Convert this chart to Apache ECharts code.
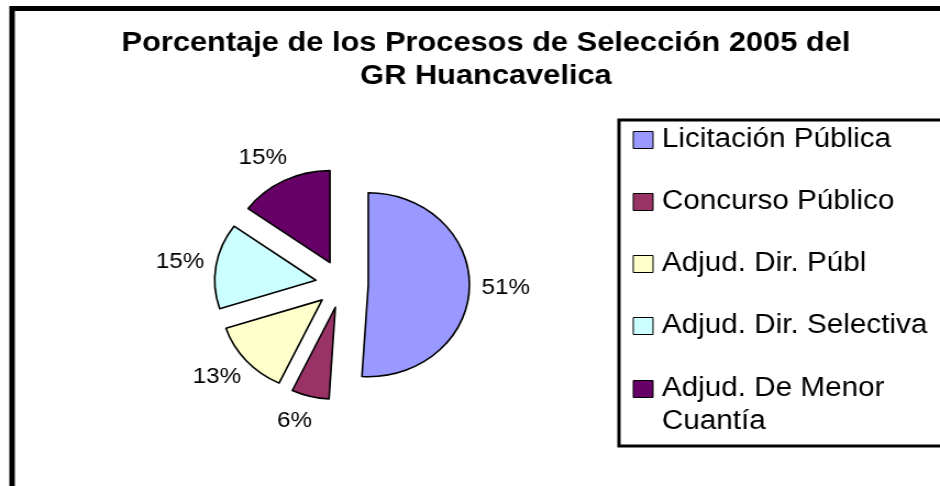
<!DOCTYPE html>
<html>
<head>
<meta charset="utf-8">
<script src="https://cdn.jsdelivr.net/npm/echarts@6/dist/echarts.min.js"></script>
<style>
  html, body { margin: 0; padding: 0; background: #fff; overflow: hidden; }
  /* the original picture is stretched a little horizontally */
  #main { width: 855px; height: 486px; transform: scaleX(1.0994); transform-origin: 0 0; }
</style>
</head>
<body>
<div id="main"></div>
<script>
const categories = ['Licitación Pública', 'Concurso Público', 'Adjud. Dir. Públ', 'Adjud. Dir. Selectiva', 'Adjud. De Menor Cuantía'];
const shares = [51, 6, 13, 15, 15];
const colors = ['#9999FF', '#993366', '#FFFFCC', '#CCFFFF', '#660066'];

const FONT = 'Liberation Sans, Arial, sans-serif';

const myChart = echarts.init(document.getElementById('main'));

// every slice is pulled out of the pie (Excel "explode")
const pieData = categories.map((name, i) => ({
  name: name,
  value: shares[i],
  selected: true,
  itemStyle: { color: colors[i] },
}));

const legendText = { color: '#000', fontFamily: FONT, fontSize: 27, lineHeight: 33, padding: [0, 0, 0, 3] };

const option = {
  animation: false,
  backgroundColor: '#fff',
  title: {
    text: 'Porcentaje de los Procesos de Selección 2005 del\nGR Huancavelica',
    left: 442,
    top: 26.5,
    padding: 0,
    textAlign: 'center',
    textStyle: { color: '#000', fontFamily: FONT, fontSize: 28, fontWeight: 'bold', lineHeight: 33 },
  },
  graphic: [
    // chart frame, runs off the right and bottom edges
    { type: 'rect', silent: true, z: -1, shape: { x: 11, y: 8.5, width: 2000, height: 2000 }, style: { fill: 'none', stroke: '#000', lineWidth: 5 } },
    // legend frame
    { type: 'rect', silent: true, z: -1, shape: { x: 563, y: 120, width: 1000, height: 326 }, style: { fill: 'none', stroke: '#000', lineWidth: 3 } },
  ],
  legend: [
    {
      data: categories.slice(0, 4),
      orient: 'vertical',
      left: 575.5,
      top: 123.5,
      padding: 0,
      itemGap: 29,
      itemWidth: 18,
      itemHeight: 17,
      icon: 'rect',
      selectedMode: false,
      itemStyle: { borderColor: '#000', borderWidth: 1 },
      textStyle: legendText,
    },
    {
      // last entry wraps onto a second line, marker stays on the first one
      data: categories.slice(4),
      orient: 'vertical',
      left: 575.5,
      bottom: 47.5,
      padding: 0,
      itemWidth: 18,
      itemHeight: 17,
      icon: 'rect',
      selectedMode: false,
      itemStyle: { borderColor: '#000', borderWidth: 1 },
      formatter: (name) => '\n' + name.replace(' Cuantía', '\nCuantía'),
      textStyle: legendText,
    },
  ],
  series: [
    {
      name: 'Procesos',
      type: 'pie',
      center: [311, 284],
      radius: 92,
      startAngle: 90,
      clockwise: true,
      selectedMode: 'multiple',
      selectedOffset: 24,
      emphasis: { disabled: true },
      itemStyle: { borderColor: '#000', borderWidth: 1.6 },
      label: {
        show: true,
        position: 'outside',
        formatter: '{c}%',
        color: '#000',
        fontFamily: FONT,
        fontSize: 22,
        distanceToLabelLine: 0,
      },
      labelLine: { show: false, length: 25, length2: 8 },
      labelLayout: { align: 'center', verticalAlign: 'middle' },
      data: pieData,
    },
  ],
};

myChart.setOption(option);
</script>
</body>
</html>
